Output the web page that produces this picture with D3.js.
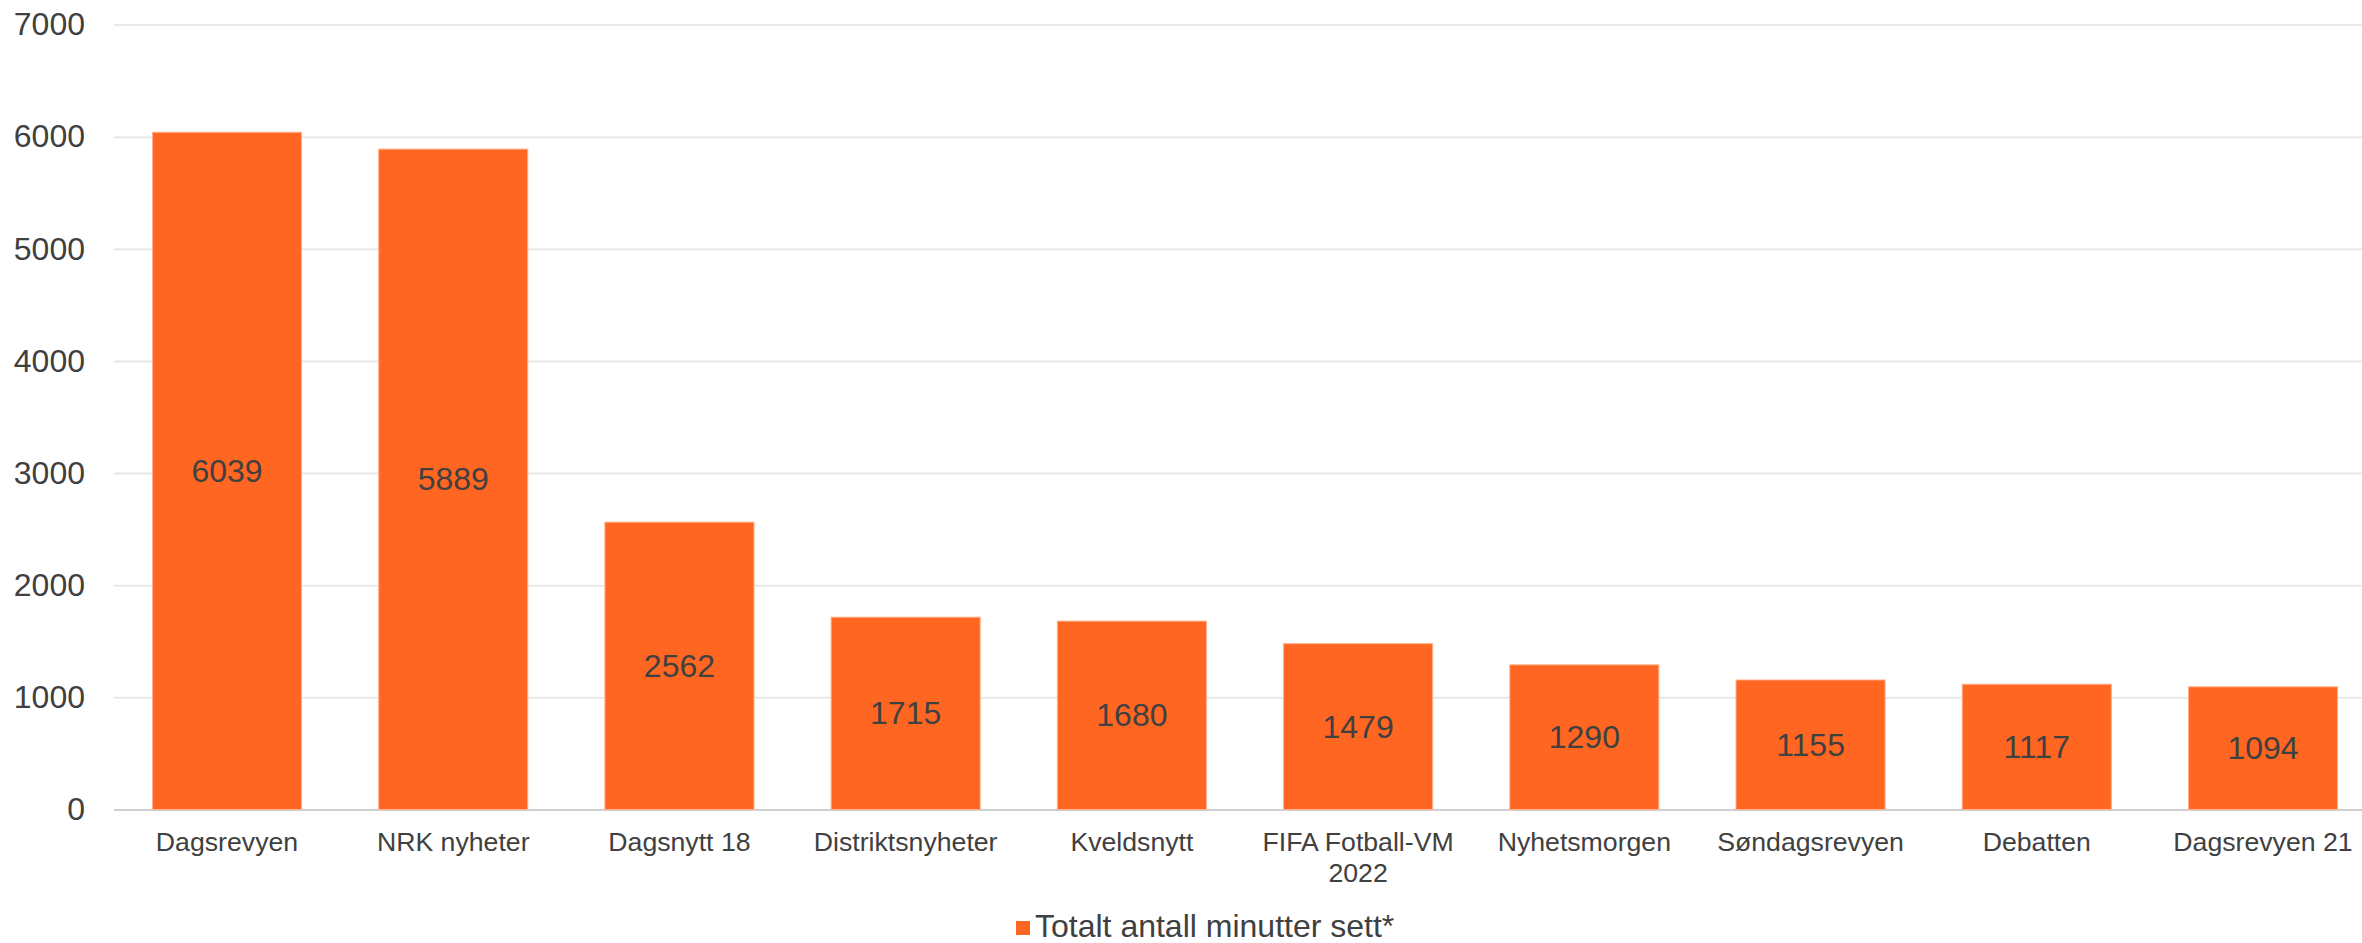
<!DOCTYPE html>
<html>
<head>
<meta charset="utf-8">
<script src="https://cdn.jsdelivr.net/npm/d3@7"></script>
<style>
  body { margin: 0; background: #fff; overflow: hidden; }
  svg text { font-family: "Liberation Sans", Arial, sans-serif; fill: #404040; }
</style>
</head>
<body>
<div id="chart"></div>
<script>
// values
var programs = ["Dagsrevyen", "NRK nyheter", "Dagsnytt 18", "Distriktsnyheter", "Kveldsnytt",
  "FIFA Fotball-VM 2022", "Nyhetsmorgen", "Søndagsrevyen", "Debatten", "Dagsrevyen 21"];
var minutes = [6039, 5889, 2562, 1715, 1680, 1479, 1290, 1155, 1117, 1094];
var yTicks = [0, 1000, 2000, 3000, 4000, 5000, 6000, 7000];
var seriesName = "Totalt antall minutter sett*";

var rows = programs.map((p, i) => ({name: p, value: minutes[i]}));

var width = 2362, height = 943;
var margin = {top: 24.5, right: -14, bottom: 133.5, left: 114};
var chartWidth = width - margin.left - margin.right;
var chartHeight = height - margin.top - margin.bottom;
var orange = "#ff6622";

var svg = d3.select("#chart").append("svg")
  .attr("width", width)
  .attr("height", height);

var g = svg.append("g")
  .attr("transform", `translate(${margin.left},${margin.top})`);

var xScale = d3.scaleBand()
  .domain(programs)
  .range([0, chartWidth])
  .paddingInner(0.341)
  .paddingOuter(0.17);

var yScale = d3.scaleLinear()
  .domain([0, 7000])
  .range([chartHeight, 0]);

// gridlines + y labels
var yAxis = d3.axisLeft(yScale)
  .tickValues(yTicks)
  .tickFormat(d3.format("d"))
  .tickSize(-chartWidth)
  .tickPadding(29);

var yg = g.append("g").attr("class", "y axis").call(yAxis);
yg.select(".domain").remove();
yg.selectAll(".tick line")
  .attr("stroke", d => d === 0 ? "#d0d0d0" : "#e8e8e8")
  .attr("stroke-width", 2);
yg.selectAll(".tick text")
  .attr("font-size", 32)
  .attr("fill", "#404040");

// bars
g.append("g").attr("class", "bars")
  .selectAll("rect")
  .data(rows)
  .enter()
  .append("rect")
  .attr("x", d => xScale(d.name))
  .attr("y", d => yScale(d.value))
  .attr("width", xScale.bandwidth())
  .attr("height", d => chartHeight - yScale(d.value))
  .attr("fill", orange)
  .attr("stroke", "#ffb08a")
  .attr("stroke-width", 1);

// value labels in the middle of each bar
g.append("g").attr("class", "values")
  .selectAll("text")
  .data(rows)
  .enter()
  .append("text")
  .attr("x", d => xScale(d.name) + xScale.bandwidth() / 2)
  .attr("y", d => (yScale(d.value) + chartHeight) / 2)
  .attr("text-anchor", "middle")
  .attr("dominant-baseline", "central")
  .attr("font-size", 32)
  .text(d => d.value);

// x labels
var xAxis = d3.axisBottom(xScale).tickSize(0).tickPadding(0);
var xg = g.append("g").attr("class", "x axis")
  .attr("transform", `translate(0,${chartHeight})`)
  .call(xAxis);
xg.select(".domain").remove();
xg.selectAll(".tick text")
  .attr("font-size", 26.67)
  .attr("fill", "#404040")
  .attr("dy", null)
  .attr("y", 41)
  .call(wrap, xScale.step() - 6);

function wrap(texts, maxW) {
  texts.each(function() {
    var text = d3.select(this);
    var words = text.text().split(" ");
    var y = text.attr("y");
    text.text(null);
    var line = [];
    var lineNo = 0;
    var tspan = text.append("tspan").attr("x", 0).attr("y", y);
    words.forEach(w => {
      line.push(w);
      tspan.text(line.join(" "));
      if (tspan.node().getComputedTextLength() > maxW && line.length > 1) {
        line.pop();
        tspan.text(line.join(" "));
        line = [w];
        lineNo++;
        tspan = text.append("tspan").attr("x", 0).attr("y", +y + lineNo * 31.5).text(w);
      }
    });
  });
}

// legend
var legend = svg.append("g").attr("class", "legend")
  .attr("transform", "translate(1016,921)");
legend.append("rect")
  .attr("width", 14)
  .attr("height", 14)
  .attr("fill", orange);
legend.append("text")
  .attr("x", 19)
  .attr("y", 15.5)
  .attr("font-size", 32)
  .text(seriesName);
</script>
</body>
</html>
